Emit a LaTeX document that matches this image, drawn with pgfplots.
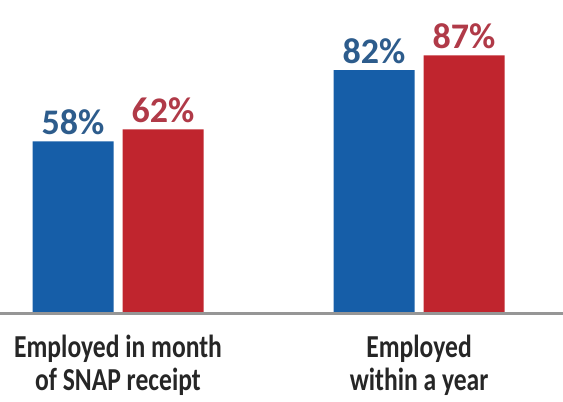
\documentclass[border=0pt]{standalone}
\usepackage{fontspec}
\setmainfont{Carlito}
\newfontfamily\condfont[FakeStretch=0.8]{Carlito}
\usepackage{pgfplots}
\pgfplotsset{compat=1.18}
\definecolor{barblue}{RGB}{22,94,168}
\definecolor{barred}{RGB}{192,37,46}
\definecolor{lblblue}{RGB}{45,92,140}
\definecolor{lblred}{RGB}{176,58,72}
\definecolor{axisgray}{RGB}{150,150,150}
\begin{document}
\begin{tikzpicture}
\begin{axis}[
  at={(0,0)}, anchor=south west,
  width=563pt, height=313pt, scale only axis,
  xmin=-0.392, xmax=1.478,
  ymin=0, ymax=105.7,
  hide y axis,
  axis x line*=bottom,
  x axis line style={-, draw=axisgray, line width=3pt},
  ytick=\empty,
  xtick={0,1},
  xticklabels={Employed in month\\of SNAP receipt, Employed\\within a year},
  major tick length=0pt,
  xticklabel style={align=center, font=\condfont\bfseries\fontsize{32}{33}\selectfont, text=black!85, yshift=-19pt},
  ybar=9pt, bar width=81pt,
  clip=false,
  /pgf/number format/assume math mode=true,
  nodes near coords={\pgfmathprintnumber{\pgfplotspointmeta}\%},
  every node near coord/.append style={font=\bfseries\fontsize{36}{36}\selectfont, anchor=south, yshift=3pt},
]
\addplot[fill=barblue, draw=none, every node near coord/.append style={text=lblblue}] coordinates {(0,58) (1,82)};
\addplot[fill=barred, draw=none, every node near coord/.append style={text=lblred}] coordinates {(0,62) (1,87)};
\draw[axisgray, line width=3pt] (rel axis cs:0,0) -- (rel axis cs:1,0);
\end{axis}
\pgfresetboundingbox
\path (0,-89pt) rectangle (563pt,313pt);
\end{tikzpicture}
\end{document}
